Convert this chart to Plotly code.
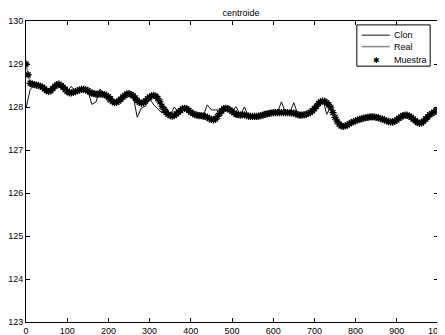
import plotly.graph_objects as go

# sample positions
x_dense = list(range(0, 1001, 5))
x_vals = list(range(0, 1001, 10))

muestra = [129.00, 128.75, 128.55, 128.53, 128.52, 128.51, 128.50, 128.48, 128.46, 128.42,
           128.38, 128.36, 128.38, 128.43, 128.48, 128.52, 128.53, 128.50, 128.46, 128.41,
           128.36, 128.33, 128.33, 128.34, 128.36, 128.38, 128.40, 128.41, 128.41, 128.40,
           128.38, 128.35, 128.32, 128.31, 128.30, 128.30, 128.30, 128.30, 128.29, 128.27,
           128.24, 128.19, 128.13, 128.10, 128.11, 128.14, 128.18, 128.23, 128.27, 128.30,
           128.31, 128.29, 128.26, 128.21, 128.15, 128.11, 128.09, 128.10, 128.14, 128.19,
           128.23, 128.26, 128.27, 128.25, 128.20, 128.12, 128.02, 127.94, 127.87, 127.83,
           127.80, 127.79, 127.80, 127.84, 127.88, 127.92, 127.96, 127.97, 127.96, 127.92,
           127.88, 127.85, 127.82, 127.81, 127.80, 127.80, 127.79, 127.78, 127.76, 127.73,
           127.71, 127.70, 127.72, 127.78, 127.85, 127.91, 127.96, 127.97, 127.96, 127.93,
           127.90, 127.86, 127.83, 127.82, 127.81, 127.82, 127.82, 127.80, 127.79, 127.78,
           127.78, 127.78, 127.78, 127.79, 127.80, 127.81, 127.83, 127.84, 127.85, 127.86,
           127.87, 127.87, 127.87, 127.87, 127.87, 127.87, 127.87, 127.87, 127.86, 127.86,
           127.86, 127.84, 127.82, 127.81, 127.81, 127.82, 127.83, 127.85, 127.87, 127.91,
           127.96, 128.02, 128.08, 128.12, 128.14, 128.13, 128.10, 128.05, 127.98, 127.87,
           127.76, 127.67, 127.60, 127.56, 127.55, 127.56, 127.58, 127.61, 127.64, 127.66,
           127.68, 127.70, 127.71, 127.73, 127.74, 127.75, 127.76, 127.77, 127.77, 127.77,
           127.76, 127.75, 127.73, 127.72, 127.70, 127.68, 127.66, 127.65, 127.65, 127.67,
           127.70, 127.74, 127.77, 127.80, 127.81, 127.81, 127.79, 127.76, 127.72, 127.68,
           127.64, 127.62, 127.63, 127.67, 127.72, 127.77, 127.82, 127.85, 127.88, 127.91,
           127.93]

real = [129.00, 128.55, 128.52, 128.50, 128.46, 128.40, 128.40, 128.46, 128.50, 128.45,
        128.38, 128.36, 128.38, 128.40, 128.41, 128.40, 128.34, 128.31, 128.30, 128.29,
        128.24, 128.15, 128.13, 128.18, 128.26, 128.30, 128.26, 128.16, 128.11, 128.14,
        128.22, 128.25, 128.18, 128.02, 127.89, 127.82, 127.82, 127.88, 127.95, 127.95,
        127.88, 127.83, 127.81, 127.80, 127.78, 127.74, 127.75, 127.85, 127.94, 127.94,
        127.89, 127.83, 127.81, 127.81, 127.80, 127.79, 127.79, 127.81, 127.83, 127.85,
        127.86, 127.87, 127.87, 127.87, 127.86, 127.85, 127.83, 127.82, 127.83, 127.87,
        127.95, 128.06, 128.12, 128.09, 127.98, 127.78, 127.62, 127.58, 127.60, 127.65,
        127.69, 127.72, 127.74, 127.76, 127.77, 127.76, 127.74, 127.72, 127.71, 127.71,
        127.73, 127.76, 127.78, 127.77, 127.73, 127.70, 127.68, 127.73, 127.82, 127.88,
        127.93]

clon = [127.97, 128.40, 128.52, 128.50, 128.46, 128.38, 128.38, 128.48, 128.53, 128.46,
        128.36, 128.48, 128.36, 128.40, 128.41, 128.38, 128.06, 128.12, 128.42, 128.28,
        128.10, 128.18, 128.11, 128.18, 128.27, 128.31, 128.26, 127.76, 127.98, 128.02,
        128.20, 128.05, 127.95, 127.86, 128.00, 127.82, 128.00, 127.88, 127.96, 127.96,
        127.88, 127.82, 127.80, 127.79, 128.05, 127.93, 127.93, 127.93, 127.93, 127.96,
        127.90, 128.01, 127.81, 128.00, 127.79, 127.78, 127.78, 127.80, 127.83, 127.85,
        127.87, 127.87, 128.12, 127.87, 127.86, 128.10, 127.82, 127.81, 127.83, 127.87,
        127.96, 128.08, 128.20, 127.83, 128.02, 127.76, 127.60, 127.55, 127.58, 127.64,
        127.68, 127.71, 127.74, 127.76, 127.77, 127.76, 127.73, 127.70, 127.66, 127.65,
        127.70, 127.77, 127.81, 127.79, 127.72, 127.64, 127.63, 127.72, 127.82, 127.88,
        127.93]

x_ticks = list(range(0, 1001, 100))
y_ticks = list(range(123, 131))
title_text = "centroide"
legend_names = ["Clon", "Real", "Muestra"]

font_family = "Liberation Sans, Arial, Helvetica, sans-serif"
clon_color = "#111111"
real_color = "#8c8c8c"

fig = go.Figure()
fig.add_trace(go.Scatter(x=x_vals, y=clon, mode="lines", name=legend_names[0],
                         line=dict(color=clon_color, width=1), showlegend=False))
fig.add_trace(go.Scatter(x=x_vals, y=real, mode="lines", name=legend_names[1],
                         line=dict(color=real_color, width=1.6), showlegend=False))
fig.add_trace(go.Scatter(x=x_dense, y=muestra, mode="markers", name=legend_names[2],
                         marker=dict(symbol="asterisk", size=6, color="#000000",
                                     line=dict(color="#000000", width=1.3)),
                         showlegend=False))

# hand-built legend box (MATLAB style)
lx0, lx1, ly0, ly1 = 0.803, 0.981, 0.850, 0.987
row_y = [0.953, 0.915, 0.869]
fig.add_shape(type="rect", xref="paper", yref="paper", x0=lx0, x1=lx1, y0=ly0, y1=ly1,
              line=dict(color="black", width=1), fillcolor="white", layer="above")
fig.add_shape(type="line", xref="paper", yref="paper", x0=0.815, x1=0.883,
              y0=row_y[0], y1=row_y[0], line=dict(color=clon_color, width=1), layer="above")
fig.add_shape(type="line", xref="paper", yref="paper", x0=0.815, x1=0.883,
              y0=row_y[1], y1=row_y[1], line=dict(color=real_color, width=1.6), layer="above")
fig.add_annotation(xref="paper", yref="paper", x=0.851, y=row_y[2], text="✱",
                   showarrow=False, xanchor="center", yanchor="middle",
                   font=dict(family="DejaVu Sans", size=8, color="black"))
for name, yy in zip(legend_names, row_y):
    fig.add_annotation(xref="paper", yref="paper", x=0.888, y=yy, text=name,
                       showarrow=False, xanchor="left", yanchor="middle",
                       font=dict(family=font_family, size=9, color="black"))

axis_common = dict(showgrid=False, zeroline=False, showline=True, linecolor="black",
                   linewidth=1, mirror="ticks", ticks="inside", ticklen=4,
                   tickcolor="black", automargin=False, ticklabeloverflow="allow",
                   tickfont=dict(size=9, color="black", family=font_family))

fig.update_layout(
    width=437, height=327,
    margin=dict(l=18, r=7, t=13, b=13),
    paper_bgcolor="white", plot_bgcolor="white",
    font=dict(family=font_family, size=9, color="black"),
    title=dict(text=title_text, x=0.533, xanchor="center", y=0.985, yanchor="middle",
               font=dict(size=9, color="black")),
    showlegend=False,
)
fig.update_xaxes(range=[0, 1000], tickvals=x_ticks, ticklabelstandoff=0, **axis_common)
fig.update_yaxes(range=[123, 130], tickvals=y_ticks, ticklabelstandoff=0, **axis_common)

fig.write_html("out.html")
